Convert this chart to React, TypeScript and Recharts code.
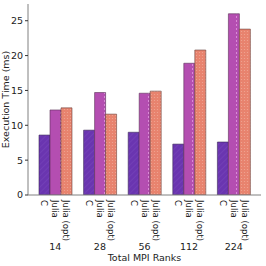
import { BarChart, Bar, XAxis, YAxis } from "recharts"

const ranks = ["14", "28", "56", "112", "224"]
const seriesNames = ["C", "Julia", "Julia (opt)"]
const cTimes = [8.6, 9.3, 9.0, 7.3, 7.6]
const juliaTimes = [12.2, 14.7, 14.6, 18.9, 26.0]
const juliaOptTimes = [12.5, 11.6, 14.9, 20.8, 23.8]
const yTicks = [0, 5, 10, 15, 20, 25]

const data = ranks.map((r, i) => ({
  rank: r,
  c: cTimes[i],
  julia: juliaTimes[i],
  juliaOpt: juliaOptTimes[i],
}))

const FONT = "DejaVu Sans, sans-serif"
const BAR = 11

// three rotated series names under each group, then the rank number
function GroupTick(props: any) {
  const { x, y, payload } = props
  const offsets = [-BAR, 0, BAR]
  return (
    <g>
      {seriesNames.map((name, i) => (
        <text
          key={name}
          transform={`translate(${x + offsets[i] - 3},${y - 3}) rotate(90)`}
          fontSize={8.5}
          fontFamily={FONT}
          fill="#222"
          textAnchor="start"
        >
          {name}
        </text>
      ))}
      <text x={x} y={y + 47} fontSize={9.5} fontFamily={FONT} fill="#222" textAnchor="middle">
        {payload.value}
      </text>
    </g>
  )
}

export default function App() {
  return (
    <div style={{ position: "absolute", left: 0, top: 0, width: 266, height: 266, background: "#fff" }}>
      <BarChart
        width={266}
        height={266}
        data={data}
        margin={{ top: 4, right: 5, bottom: 0, left: 0 }}
        barGap={0}
      >
        <defs>
          <pattern id="hatchC" width="4" height="4" patternUnits="userSpaceOnUse" patternTransform="rotate(45)">
            <rect width="4" height="4" fill="#6a35b0" />
            <line x1="0" y1="0" x2="0" y2="4" stroke="#7a48bd" strokeWidth="1" />
          </pattern>
          <pattern id="hatchJ" width="11" height="4" patternUnits="userSpaceOnUse">
            <rect width="11" height="4" fill="#b44eb1" />
            <rect x="5" y="0" width="1" height="2" fill="#d98bd6" />
          </pattern>
          <pattern id="hatchO" width="3" height="3" patternUnits="userSpaceOnUse">
            <rect width="3" height="3" fill="#e8836e" />
            <circle cx="1.5" cy="1.5" r="0.6" fill="#f0a795" />
          </pattern>
        </defs>
        <XAxis
          dataKey="rank"
          xAxisId="main"
          height={71}
          interval={0}
          padding={{ left: 5, right: 5 }}
          axisLine={{ stroke: "#808080" }}
          tickLine={false}
          tick={<GroupTick />}
          label={{ value: "Total MPI Ranks", position: "insideBottom", offset: 5, fontSize: 9.5, fontFamily: FONT, fill: "#222" }}
        />
        <XAxis
          dataKey="rank"
          xAxisId="top"
          orientation="top"
          height={0}
          tick={false}
          tickLine={false}
          axisLine={{ stroke: "#808080" }}
        />
        <YAxis
          yAxisId="main"
          width={28}
          domain={[0, 27.4]}
          ticks={yTicks}
          allowDataOverflow
          axisLine={{ stroke: "#808080" }}
          tickLine={{ stroke: "#333" }}
          tickSize={3}
          tick={{ fontSize: 9.5, fontFamily: FONT, fill: "#222" }}
          label={{ value: "Execution Time (ms)", angle: -90, position: "insideLeft", offset: 6, fontSize: 9.5, fontFamily: FONT, fill: "#222", style: { textAnchor: "middle" } }}
        />
        <YAxis
          yAxisId="right"
          orientation="right"
          width={0}
          domain={[0, 27.4]}
          tick={false}
          tickLine={false}
          axisLine={{ stroke: "#808080" }}
        />
        <Bar dataKey="c" xAxisId="main" yAxisId="main" barSize={BAR} fill="url(#hatchC)" stroke="#3a2a55" strokeWidth={0.6} isAnimationActive={false} />
        <Bar dataKey="julia" xAxisId="main" yAxisId="main" barSize={BAR} fill="url(#hatchJ)" stroke="#5a3058" strokeWidth={0.6} isAnimationActive={false} />
        <Bar dataKey="juliaOpt" xAxisId="main" yAxisId="main" barSize={BAR} fill="url(#hatchO)" stroke="#6a4540" strokeWidth={0.6} isAnimationActive={false} />
      </BarChart>
    </div>
  )
}
